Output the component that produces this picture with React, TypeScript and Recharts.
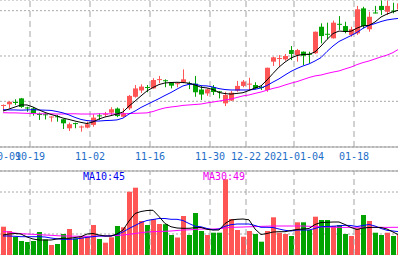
import React from "react";
import { ComposedChart, Bar, Line, XAxis, YAxis, CartesianGrid, ReferenceLine } from "recharts";

const dates = [
  "2020-10-12","2020-10-13","2020-10-14","2020-10-15","2020-10-16","2020-10-19","2020-10-20","2020-10-21","2020-10-22","2020-10-23",
  "2020-10-26","2020-10-27","2020-10-28","2020-10-29","2020-10-30","2020-11-02","2020-11-03","2020-11-04","2020-11-05","2020-11-06",
  "2020-11-09","2020-11-10","2020-11-11","2020-11-12","2020-11-13","2020-11-16","2020-11-17","2020-11-18","2020-11-19","2020-11-20",
  "2020-11-23","2020-11-24","2020-11-25","2020-11-26","2020-11-27","2020-11-30","2020-12-01","2020-12-02","2020-12-03","2020-12-04",
  "2020-12-21","2020-12-22","2020-12-23","2020-12-24","2020-12-25","2020-12-28","2020-12-29","2020-12-30","2020-12-31","2021-01-04",
  "2021-01-05","2021-01-06","2021-01-07","2021-01-08","2021-01-11","2021-01-12","2021-01-13","2021-01-14","2021-01-15","2021-01-18",
  "2021-01-19","2021-01-20","2021-01-21","2021-01-22","2021-01-25","2021-01-26","2021-01-27",
];

const open = [10.80,10.87,10.97,11.13,10.73,10.69,10.44,10.43,10.30,10.34,10.21,9.81,10.04,9.87,9.84,9.96,10.38,10.42,10.50,10.68,10.32,10.69,11.20,11.48,11.63,11.57,11.95,11.93,11.83,11.78,11.84,11.80,11.78,11.52,11.35,11.62,11.44,10.91,11.03,11.47,11.68,11.75,11.72,11.63,11.50,12.75,12.88,12.85,13.26,13.04,13.19,13.10,13.12,14.29,13.98,13.78,14.42,14.32,13.93,14.00,15.10,14.18,14.92,15.21,14.95,15.00,15.06];
const close = [10.84,10.98,10.94,10.75,10.71,10.47,10.41,10.40,10.33,10.31,10.03,9.99,10.01,9.89,9.99,10.28,10.35,10.45,10.65,10.35,10.47,11.24,11.57,11.65,11.60,11.94,11.98,11.90,11.69,11.80,11.97,11.77,11.40,11.30,11.53,11.41,11.41,11.28,11.38,11.68,11.87,11.78,11.57,11.60,12.48,12.94,12.91,13.00,13.09,13.26,13.01,13.07,14.07,13.88,13.95,14.47,14.40,14.07,14.18,15.06,14.32,14.73,14.90,15.03,15.21,14.97,15.32];
const high = [10.86,11.01,11.09,11.15,10.76,10.75,10.50,10.49,10.34,10.40,10.22,10.06,10.06,9.93,10.10,10.43,10.47,10.53,10.74,10.73,10.69,11.28,11.72,11.75,11.72,12.02,12.12,11.97,11.85,11.83,12.41,11.87,12.12,11.68,11.57,11.72,11.45,11.42,11.46,11.90,11.94,12.04,11.84,11.72,12.49,12.97,13.04,13.09,13.44,13.31,13.20,13.19,14.08,14.44,14.47,14.56,14.76,14.51,14.29,15.21,15.17,14.95,15.21,15.45,15.45,15.35,15.45];
const low = [10.59,10.69,10.84,10.71,10.54,10.37,10.18,10.20,10.10,10.10,9.78,9.69,9.81,9.66,9.81,9.88,10.18,10.33,10.38,10.30,10.30,10.62,11.16,11.37,11.40,11.56,11.80,11.62,11.57,11.62,11.80,11.54,11.20,11.06,11.24,11.28,11.13,10.79,11.02,11.42,11.62,11.50,11.53,11.50,11.42,12.56,12.56,12.79,12.82,12.75,12.60,12.68,13.09,13.56,13.74,13.77,14.15,14.00,13.85,13.93,14.22,14.07,14.88,14.81,14.81,14.88,14.88];

const ma5 = [10.57,10.66,10.75,10.84,10.84,10.75,10.62,10.51,10.42,10.35,10.26,10.20,10.13,10.07,10.02,10.09,10.22,10.31,10.37,10.44,10.53,10.79,11.01,11.24,11.46,11.61,11.74,11.81,11.83,11.84,11.83,11.80,11.72,11.62,11.59,11.52,11.39,11.34,11.32,11.35,11.38,11.48,11.59,11.68,11.94,12.23,12.51,12.73,12.91,13.02,13.07,13.07,13.18,13.44,13.73,13.99,14.10,14.08,14.09,14.23,14.33,14.35,14.50,14.72,14.85,14.95,15.03];
const ma10 = [10.63,10.62,10.62,10.61,10.62,10.63,10.62,10.61,10.60,10.55,10.49,10.40,10.29,10.20,10.15,10.13,10.13,10.15,10.16,10.18,10.26,10.44,10.57,10.73,10.86,10.99,11.12,11.26,11.39,11.54,11.68,11.75,11.76,11.69,11.68,11.63,11.56,11.52,11.50,11.50,11.50,11.50,11.53,11.59,11.70,11.85,11.99,12.16,12.32,12.45,12.56,12.65,12.78,12.93,13.20,13.44,13.64,13.77,13.90,14.04,14.22,14.35,14.43,14.52,14.59,14.63,14.66];
const ma30 = [10.50,10.49,10.49,10.48,10.47,10.46,10.45,10.45,10.45,10.44,10.44,10.45,10.45,10.44,10.44,10.44,10.45,10.45,10.45,10.44,10.45,10.46,10.47,10.48,10.49,10.55,10.64,10.71,10.75,10.78,10.82,10.84,10.86,10.88,10.93,10.97,11.01,11.06,11.10,11.17,11.24,11.28,11.35,11.41,11.49,11.57,11.63,11.72,11.80,11.87,11.96,12.05,12.12,12.16,12.23,12.29,12.34,12.43,12.51,12.62,12.71,12.78,12.87,12.96,13.04,13.15,13.31];

const volume = [56.6,48,36,28,26,28,46,31,20,22,42,52,33,36.6,36.6,60,32,24.6,35.4,58,55.4,126.6,134.6,68,60,71.6,62,61.6,40,35,78,40,84,48,40,44.6,44.6,151.4,72,50,36.6,48,42,26.6,48,75.4,44.6,42,38,65.4,65.4,50,76.6,70,70,58,60,42,38,53.4,80,68,44.6,40,44.6,38,40];
const volMa5 = [40,42,43,42,36,32,30,30,30,32,33.4,33.4,35,36.6,42,43,40,38,38,42,50,68,83,87,89,89.5,77,63,56.5,54,53.4,53.4,54.6,55,51.4,50,50,63,70,71.4,72,70.4,52,41,43,46,46.6,46.6,49,51,52,53,61,65,65.4,66,66,61,55,51,54,55,55.4,55,52,46,40];
const volMa10 = [38,38,37.4,36.6,36.6,36.6,36.6,36,34,32.4,31.4,31.4,32,33.4,35.4,36.6,38,38,38,41,46,53,59,65,69,71,73,73,71.4,71.4,69,63,57.6,56.4,53,50.4,52,57.4,60.6,62,62,62,59,55.4,55.4,55,52,49.4,48,50,50,50,53,56.6,57,57.6,58.4,59.4,59,57,59,61,58,53,49.4,48,46.6];
const volMa30 = [47,46,44,42.6,42,41.4,40.6,40,39.4,38.6,38,38,37.6,37.4,37.4,37.4,38,38,38.6,39,40,41.4,43,44.6,46,46.6,47,47.4,48,49,50,50.4,51,52,52,52,52.4,54,55.4,55.6,56,56.4,56.8,57.2,57.6,58,58,58,58,58,58,57.4,56.8,56.4,56,55.6,55.4,55.2,55.4,55.6,55.4,55.2,55.4,55.4,55.2,55.4,55.4];

const tickDates = ["2020-10-13","2020-10-19","2020-11-02","2020-11-16","2020-11-30","2020-12-22","2021-01-04","2021-01-18"];
const tickLabels = ["10-09","10-19","11-02","11-16","11-30","12-22","2021-01-04","01-18"];
const gridDates = ["2020-10-19","2020-11-02","2020-11-16","2020-11-30","2020-12-22","2021-01-04","2021-01-18"];
const priceTicks = [10, 11, 12, 13, 14, 15];
const priceDomain = [8.985, 15.47];
const volTicks = [42, 84, 126];
const volDomain = [0, 168];
const maLabels = [
  { text: "MA10:45", color: "#0000ee", x: 83 },
  { text: "MA30:49", color: "#ee00ee", x: 203 },
];

const RED = "#ff5555";
const GREEN = "#00a300";
const GRID = "#aaaaaa";
const VGRID = "#a4a4a4";
const FONT = "'DejaVu Sans Mono', monospace";

const rows = dates.map((d, i) => ({
  date: d,
  open: open[i],
  close: close[i],
  high: high[i],
  low: low[i],
  ma5: ma5[i],
  ma10: ma10[i],
  ma30: ma30[i],
  volume: volume[i],
  vma5: volMa5[i],
  vma10: volMa10[i],
  vma30: volMa30[i],
  up: close[i] > open[i],
}));

const Candle = (props: any) => {
  const { x, y, width, height, payload } = props;
  if (!payload || height == null) return null;
  const { open: o, close: c, high: h, low: l, up } = payload;
  const ppu = height / (h - l);
  const left = Math.floor(x);
  const w = Math.round(width);
  const cx = left + Math.floor(w / 2) + 0.5;
  const top = y + (h - Math.max(o, c)) * ppu;
  const bot = y + (h - Math.min(o, c)) * ppu;
  const color = up ? RED : GREEN;
  return (
    <g>
      <line x1={cx} x2={cx} y1={y} y2={y + height} stroke={color} strokeWidth={1} />
      <rect x={left} y={top} width={w} height={Math.max(1, bot - top)} fill={color} />
    </g>
  );
};

const VolBar = (props: any) => {
  const { x, y, width, height, payload } = props;
  if (!payload) return null;
  return (
    <rect
      x={Math.floor(x)}
      y={y}
      width={Math.round(width)}
      height={Math.max(0, height)}
      fill={payload.up ? RED : GREEN}
    />
  );
};

const DateTick = (props: any) => {
  const { x, y, payload } = props;
  const idx = tickDates.indexOf(payload.value);
  return (
    <text x={x - 3} y={y + 5} textAnchor="middle" fontFamily={FONT} fontSize={10} fill="#1e6ec8">
      {idx >= 0 ? tickLabels[idx] : ""}
    </text>
  );
};

export default function App() {
  const W = 402;
  return (
    <div style={{ position: "absolute", left: 0, top: 0, width: 398, height: 255, overflow: "hidden", background: "#fff" }}>
      <div style={{ position: "absolute", left: 0, top: 0 }}>
        <ComposedChart width={W} height={171} data={rows} margin={{ top: 0, right: 0, bottom: 0, left: 0 }}>
          <CartesianGrid vertical={false} stroke={GRID} strokeDasharray="2 2" />
          <XAxis
            dataKey="date"
            height={24}
            ticks={tickDates}
            interval={0}
            tickLine={false}
            axisLine={{ stroke: "#999" }}
            tick={<DateTick />}
          />
          <YAxis hide domain={priceDomain} ticks={priceTicks} allowDataOverflow />
          {gridDates.map((d) => (
            <ReferenceLine key={d} x={d} position="start" stroke={VGRID} strokeDasharray="6 4" />
          ))}
          <Bar dataKey={(d: any) => [d.low, d.high]} barSize={5} shape={(p: any) => <Candle {...p} />} isAnimationActive={false} />
          <Line dataKey="ma30" stroke="#ff00ff" strokeWidth={1} dot={false} isAnimationActive={false} type="linear" />
          <Line dataKey="ma10" stroke="#0000ff" strokeWidth={1} dot={false} isAnimationActive={false} type="linear" />
          <Line dataKey="ma5" stroke="#000000" strokeWidth={1} dot={false} isAnimationActive={false} type="linear" />
        </ComposedChart>
      </div>
      <div style={{ position: "absolute", left: 0, top: 170 }}>
        <ComposedChart width={W} height={85} data={rows} margin={{ top: 1, right: 0, bottom: 0, left: 0 }}>
          <CartesianGrid vertical={false} stroke={GRID} strokeDasharray="2 2" />
          <XAxis dataKey="date" hide />
          <YAxis hide domain={volDomain} ticks={volTicks} allowDataOverflow />
          <ReferenceLine y={168} stroke="#999" ifOverflow="visible" />
          {gridDates.map((d) => (
            <ReferenceLine key={d} x={d} position="start" stroke={VGRID} strokeDasharray="6 4" />
          ))}
          <Bar dataKey="volume" barSize={5} shape={(p: any) => <VolBar {...p} />} isAnimationActive={false} />
          <Line dataKey="vma30" stroke="#ff00ff" strokeWidth={1} dot={false} isAnimationActive={false} type="linear" />
          <Line dataKey="vma10" stroke="#0000ff" strokeWidth={1} dot={false} isAnimationActive={false} type="linear" />
          <Line dataKey="vma5" stroke="#000000" strokeWidth={1} dot={false} isAnimationActive={false} type="linear" />
        </ComposedChart>
      </div>
      <svg style={{ position: "absolute", left: 0, top: 0 }} width={398} height={255}>
        {maLabels.map((m) => (
          <text key={m.text} x={m.x} y={180} fontFamily={FONT} fontSize={10} fill={m.color}>
            {m.text}
          </text>
        ))}
      </svg>
    </div>
  );
}
